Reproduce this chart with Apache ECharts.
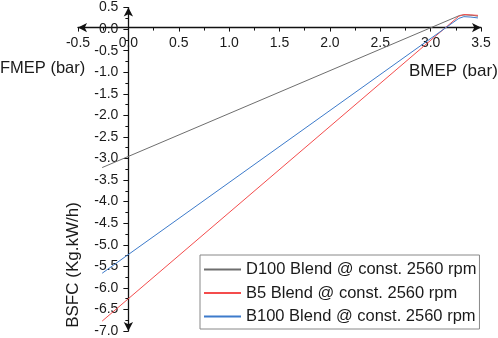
<!DOCTYPE html>
<html>
<head>
<meta charset="utf-8">
<script src="https://cdn.jsdelivr.net/npm/echarts@6/dist/echarts.min.js"></script>
<style>
html,body{margin:0;padding:0;background:#fff;}
#c{width:498px;height:338px;}
</style>
</head>
<body>
<div id="c"></div>
<script>
const seriesNames = ['D100 Blend @ const. 2560 rpm', 'B5 Blend @ const. 2560 rpm', 'B100 Blend @ const. 2560 rpm'];
const d100X = [-0.26, 3.29, 3.35, 3.42, 3.47];
const d100Y = [-3.21, 0.32, 0.33, 0.32, 0.30];
const b5X = [-0.26, 3.28, 3.33, 3.40, 3.47];
const b5Y = [-6.77, 0.30, 0.34, 0.33, 0.32];
const b100X = [-0.26, 3.28, 3.33, 3.40, 3.47];
const b100Y = [-5.66, 0.25, 0.29, 0.28, 0.26];
const colors = ['#6e6e6e', '#f44c4c', '#3d7bcb'];

const zip = (xs, ys) => xs.map((x, i) => [x, ys[i]]);
const font = "'Liberation Sans', Arial, sans-serif";

const GL = 78, GR = 17, GT = 7.6, GB = 5.3;
const W = 498, H = 338;
// pixel where y=0 and x=0 fall, so axes can be offset there
const yZeroPx = GT + (H - GT - GB) * (0.5 - 0) / 7.5;
const xZeroPx = GL + (W - GL - GR) * (0 + 0.5) / 4;

const chart = echarts.init(document.getElementById('c'));
chart.setOption({
  animation: false,
  backgroundColor: '#fff',
  grid: { left: GL, right: GR, top: GT, bottom: GB, containLabel: false },
  xAxis: {
    type: 'value', min: -0.5, max: 3.5, interval: 0.5,
    position: 'bottom', offset: -((H - GB) - yZeroPx),
    axisLine: { onZero: false, lineStyle: { color: '#111', width: 1.3 }, symbol: ['arrow', 'arrow'], symbolSize: [7, 9] },
    axisTick: { show: true, length: 4, lineStyle: { color: '#111' } },
    minorTick: { show: true, splitNumber: 2, length: 3, lineStyle: { color: '#111' } },
    splitLine: { show: false },
    axisLabel: { margin: 9, fontSize: 14, color: '#1a1a1a', fontFamily: font, formatter: v => v.toFixed(1), showMinLabel: true, showMaxLabel: true, hideOverlap: false }
  },
  yAxis: {
    type: 'value', min: -7, max: 0.5, interval: 0.5,
    position: 'left', offset: -(xZeroPx - GL),
    axisLine: { onZero: false, lineStyle: { color: '#111', width: 1.3 }, symbol: ['arrow', 'arrow'], symbolSize: [7, 9] },
    axisTick: { show: true, length: 5, lineStyle: { color: '#111' } },
    minorTick: { show: true, splitNumber: 2, length: 3, lineStyle: { color: '#111' } },
    splitLine: { show: false },
    axisLabel: { margin: 10, fontSize: 14, color: '#1a1a1a', fontFamily: font, formatter: v => v.toFixed(1), showMinLabel: true, showMaxLabel: true, hideOverlap: false }
  },
  legend: {
    orient: 'vertical', left: 200, top: 255,
    padding: [6, 3, 4, 3],
    itemWidth: 37, itemHeight: 14, itemGap: 6.5,
    borderColor: '#888', borderWidth: 1, borderRadius: 0,
    backgroundColor: '#fff',
    itemStyle: { opacity: 0 },
    textStyle: { fontSize: 16.5, color: '#1a1a1a', fontFamily: font },
    data: seriesNames
  },
  graphic: [
    { type: 'text', left: 0, top: 60, style: { text: 'FMEP (bar)', font: '16.5px ' + font, fill: '#1a1a1a' } },
    { type: 'text', left: 409, top: 63, style: { text: 'BMEP (bar)', font: '17px ' + font, fill: '#1a1a1a' } },
    { type: 'text', x: 73, y: 265, rotation: Math.PI / 2, style: { text: 'BSFC (Kg.kW/h)', font: '17px ' + font, fill: '#1a1a1a', align: 'center', verticalAlign: 'middle' } }
  ],
  series: [
    { name: seriesNames[0], type: 'line', data: zip(d100X, d100Y), symbol: 'none', lineStyle: { width: 1, color: colors[0] }, itemStyle: { color: colors[0] } },
    { name: seriesNames[1], type: 'line', data: zip(b5X, b5Y), symbol: 'none', lineStyle: { width: 1, color: colors[1] }, itemStyle: { color: colors[1] } },
    { name: seriesNames[2], type: 'line', data: zip(b100X, b100Y), symbol: 'none', lineStyle: { width: 1, color: colors[2] }, itemStyle: { color: colors[2] } }
  ]
});
</script>
</body>
</html>
